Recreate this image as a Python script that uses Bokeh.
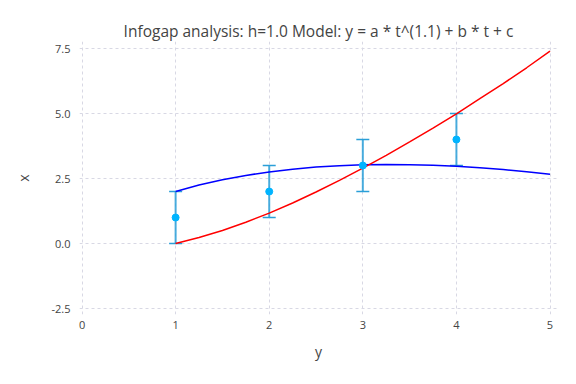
from bokeh.plotting import figure
from bokeh.models import ColumnDataSource, Whisker, TeeHead, FixedTicker, NumeralTickFormatter, Range1d
from bokeh.embed import file_html
from bokeh.resources import INLINE

# Observed data with error bars
obs_t = [1, 2, 3, 4]
obs_x = [1, 2, 3, 4]
obs_lo = [0, 1, 2, 3]
obs_hi = [2, 3, 4, 5]

# Model curves
curve_t = [1.0, 1.25, 1.5, 1.75, 2.0, 2.25, 2.5, 2.75, 3.0, 3.25, 3.5, 3.75, 4.0, 4.25, 4.5, 4.75, 5.0]
red_x = [0.0, 0.23, 0.50, 0.82, 1.17, 1.56, 1.98, 2.43, 2.90, 3.39, 3.91, 4.44, 4.99, 5.57, 6.15, 6.76, 7.40]
blue_x = [2.0, 2.25, 2.45, 2.62, 2.755, 2.86, 2.94, 2.99, 3.026, 3.039, 3.034, 3.011, 2.971, 2.915, 2.846, 2.762, 2.664]

x_ticks = [0, 1, 2, 3, 4, 5]
y_ticks = [-2.5, 0, 2.5, 5, 7.5]

FONT = "Open Sans"

p = figure(width=560, height=368, output_backend="svg", toolbar_location=None,
           x_range=Range1d(-0.027, 5.08), y_range=Range1d(-2.73, 7.77),
           min_border_left=79, min_border_right=3, min_border_top=41, min_border_bottom=54,
           title="Infogap analysis: h=1.0 Model: y = a * t^(1.1) + b * t + c")

p.title.align = "center"
p.title.text_font = FONT
p.title.text_font_size = "15.5px"
p.title.text_font_style = "normal"
p.title.text_color = "#444444"
p.title.offset = 0
p.title.standoff = 0

p.outline_line_color = None
p.background_fill_color = "white"
p.border_fill_color = "white"

for ax in (p.xaxis[0], p.yaxis[0]):
    ax.axis_line_color = None
    ax.major_tick_line_color = None
    ax.minor_tick_line_color = None
    ax.major_label_text_color = "#444444"
    ax.major_label_text_font = FONT
    ax.major_label_text_font_size = "11px"
    ax.axis_label_text_font = FONT
    ax.axis_label_text_font_size = "14px"
    ax.axis_label_text_font_style = "normal"
    ax.axis_label_text_color = "#444444"
    ax.major_tick_out = 0
    ax.major_tick_in = 0

p.xaxis.ticker = FixedTicker(ticks=x_ticks)
p.yaxis.ticker = FixedTicker(ticks=y_ticks)
p.yaxis.formatter = NumeralTickFormatter(format="0.0")
p.xaxis.axis_label = "y"
p.yaxis.axis_label = "x"
p.xaxis.major_label_standoff = 6
p.yaxis.major_label_standoff = 9
p.xaxis.axis_label_standoff = 10
p.yaxis.axis_label_standoff = 15

for g in (p.xgrid[0], p.ygrid[0]):
    g.grid_line_color = "#d8d8e4"
    g.grid_line_dash = "3 3"
    g.grid_line_width = 1

# Model curves
p.line(curve_t, blue_x, line_color="#0000ff", line_width=1.5)
p.line(curve_t, red_x, line_color="#ff0000", line_width=1.5)

# Error bars
src = ColumnDataSource(data=dict(t=obs_t, x=obs_x, lo=obs_lo, hi=obs_hi))
w = Whisker(source=src, base="t", lower="lo", upper="hi", dimension="height",
            line_color="#2a9fd8", line_width=2, line_alpha=0.85,
            upper_head=TeeHead(size=13, line_color="#2a9fd8", line_width=1.5),
            lower_head=TeeHead(size=13, line_color="#2a9fd8", line_width=1.5))
p.add_layout(w)

p.scatter("t", "x", source=src, size=7, fill_color="#00b4ff", line_color="#00b4ff")

open("out.html", "w").write(file_html(p, INLINE))
